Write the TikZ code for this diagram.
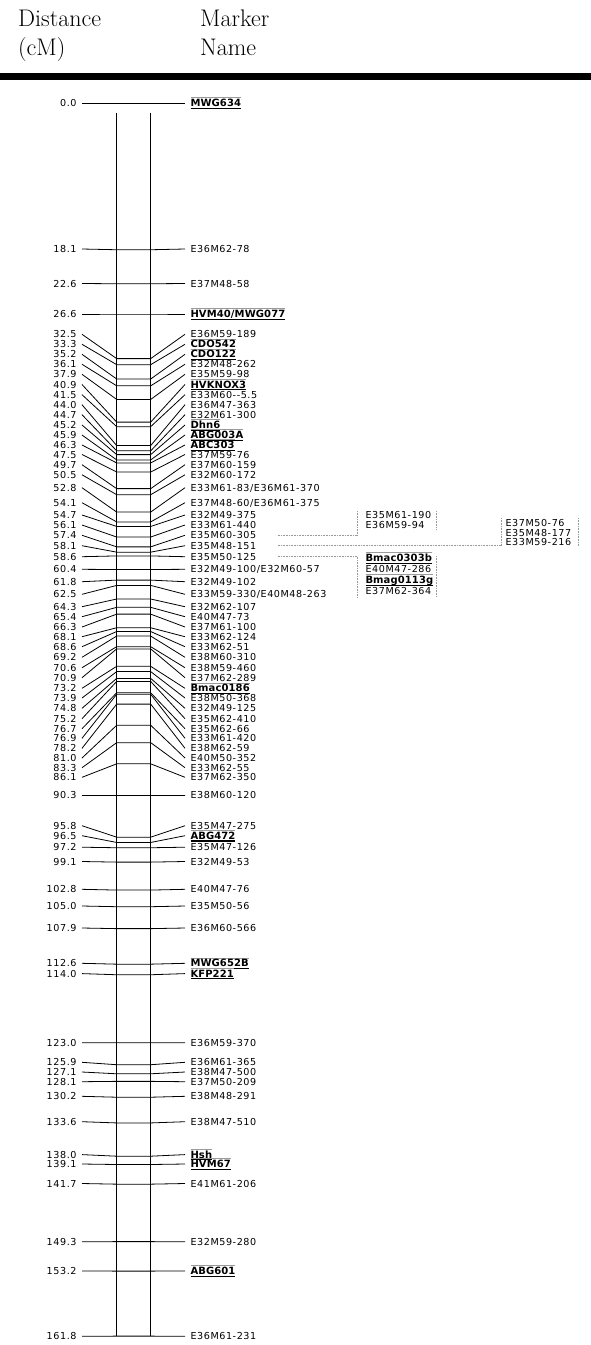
\documentclass[tikz,border=0pt]{standalone}
\usepackage{fontspec}
\usetikzlibrary{calc}
\newfontfamily\mapfont{DejaVu Sans}[LetterSpace=6]
\newfontfamily\mapbold{DejaVu Sans}[LetterSpace=1]
\definecolor{DotGrey}{HTML}{9A9A9A}
\newsavebox\mkbox
\newcommand\mkbold[1]{\sbox\mkbox{\mapbold\bfseries\fontsize{10pt}{11pt}\selectfont #1}%
  \rlap{\textcolor{DotGrey}{\rule[8.8pt]{\wd\mkbox}{0.5pt}}}\rlap{\rule[-2.3pt]{\wd\mkbox}{1.1pt}}\usebox\mkbox}

\begin{document}
\begin{tikzpicture}[x=1pt,y=-1pt,
  hdr/.style={anchor=base west, inner sep=0pt, font=\fontsize{24pt}{29pt}\selectfont},
  cmlab/.style={anchor=east, inner xsep=5.5pt, inner ysep=0pt, outer sep=0pt, text height=7pt, text depth=0pt, font=\mapfont\fontsize{9.6pt}{11pt}\selectfont},
  mklab/.style={cmlab, anchor=west},
  conn/.style={line width=0.8pt},
  bar/.style={line width=1.2pt},
  dotline/.style={DotGrey, densely dotted, line width=0.6pt}]
  \useasboundingbox (0,0) rectangle (591,1345);
  % header
  \node[hdr] (dist) at (18,26) {Distance};
  \node[hdr] (cm) at (18,55) {(cM)};
  \node[hdr] (mark) at (200,26) {Marker};
  \node[hdr] (name) at (200,55) {Name};
  \draw[line width=6.5pt] (0,76.5) -- (591,76.5);
  % chromosome
  \draw[bar] (116.7,112.9) -- (116.7,1336.1) (150.7,112.9) -- (150.7,1336.1);
  \node[cmlab] (d0) at (82,103) {0.0};
  \node[mklab] (m0) at (185,103) {\mkbold{MWG634}};
  \draw[conn] (d0.east) -- (m0.west);
  \foreach \c/\ly/\nm [count=\i] in {18.1/249/E36M62-78, 22.6/283.5/E37M48-58, 26.6/314/\mkbold{HVM40/MWG077},
    32.5/334.3/E36M59-189, 33.3/344.3/\mkbold{CDO542}, 35.2/354.3/\mkbold{CDO122}, 36.1/364.3/E32M48-262,
    37.9/374.3/E35M59-98, 40.9/384.5/\mkbold{HVKNOX3}, 41.5/394.7/E33M60-{}-5.5, 44.0/404.7/E36M47-363,
    44.7/414.7/E32M61-300, 45.2/425/\mkbold{Dhn6}, 45.9/435/\mkbold{ABG003A}, 46.3/445/\mkbold{ABC303},
    47.5/454.5/E37M59-76, 49.7/464.7/E37M60-159, 50.5/474.8/E32M60-172, 52.8/487.7/{E33M61-83/E36M61-370},
    54.1/502.7/{E37M48-60/E36M61-375}, 54.7/515/E32M49-375, 56.1/525/E33M61-440, 57.4/535.3/E35M60-305,
    58.1/545.7/E35M48-151, 58.6/556.7/E35M50-125, 60.4/569.3/{E32M49-100/E32M60-57}, 61.8/581.7/E32M49-102,
    62.5/594.3/{E33M59-330/E40M48-263}, 64.3/606.7/E32M62-107, 65.4/616.7/E40M47-73, 66.3/627/E37M61-100,
    68.1/636.7/E33M62-124, 68.6/646.7/E33M62-51, 69.2/657.3/E38M60-310, 70.6/667.7/E38M59-460,
    70.9/677.7/E37M62-289, 73.2/688.3/\mkbold{Bmac0186}, 73.9/698/E38M50-368, 74.8/708.3/E32M49-125,
    75.2/718.7/E35M62-410, 76.7/728.7/E35M62-66, 76.9/738.3/E33M61-420, 78.2/748.3/E38M62-59,
    81.0/758/E40M50-352, 83.3/767.7/E33M62-55, 86.1/777.3/E37M62-350, 90.3/795.4/E38M60-120,
    95.8/825.7/E35M47-275, 96.5/835.7/\mkbold{ABG472}, 97.2/847.2/E35M47-126, 99.1/861.5/E32M49-53,
    102.8/889.3/E40M47-76, 105.0/906/E35M50-56, 107.9/928/E36M60-566, 112.6/963.3/\mkbold{MWG652B},
    114.0/973.6/\mkbold{KFP221}, 123.0/1042.7/E36M59-370, 125.9/1062.3/E36M61-365, 127.1/1072/E38M47-500,
    128.1/1081.7/E37M50-209, 130.2/1096.3/E38M48-291, 133.6/1121.7/E38M47-510, 138.0/1154.6/\mkbold{Hsh},
    139.1/1164/\mkbold{HVM67}, 141.7/1183.5/E41M61-206, 149.3/1241.8/E32M59-280, 153.2/1271/\mkbold{ABG601},
    161.8/1336.3/E36M61-231}{
    \pgfmathsetmacro\ty{314+7.56*(\c-26.6)}
    \node[cmlab] (d\i) at (82,\ly) {\c};
    \node[mklab] (m\i) at (185,\ly) {\nm};
    \coordinate (l\i) at (116.7,\ty);
    \coordinate (r\i) at (150.7,\ty);
    \draw[conn] (d\i.east) -- (l\i) -- (r\i) -- (m\i.west);
  }
  % markers placed beside the map
  \node[mklab] (c2a) at (360,515) {E35M61-190};
  \node[mklab] (c2b) at (360,524.5) {E36M59-94};
  \node[mklab] (c3a) at (500,523) {E37M50-76};
  \node[mklab] (c3b) at (500,532.7) {E35M48-177};
  \node[mklab] (c3c) at (500,542.3) {E33M59-216};
  \node[mklab] (c2c) at (360,558) {\mkbold{Bmac0303b}};
  \node[mklab] (c2d) at (360,569) {E40M47-286};
  \node[mklab] (c2e) at (360,580) {\mkbold{Bmag0113g}};
  \node[mklab] (c2f) at (360,591) {E37M62-364};
  \coordinate (kA) at (357,0);
  \coordinate (kB) at (436,0);
  \coordinate (kC) at (501,0);
  \coordinate (kD) at (578,0);
  \draw[dotline] (kA |- 0,511) -- (kA |- m23.east);
  \draw[dotline] (kB |- 0,511) -- (kB |- 0,529);
  \draw[dotline] (kC |- 0,518) -- (kC |- m24.east);
  \draw[dotline] (kD |- 0,518) -- (kD |- 0,546);
  \draw[dotline] (kA |- m25.east) -- (kA |- 0,597);
  \draw[dotline] (kB |- 0,556) -- (kB |- 0,597);
  \draw[dotline, shorten <=16pt] (m23.east) -- (kA |- m23.east);
  \draw[dotline, shorten <=16pt] (m24.east) -- (kC |- m24.east);
  \draw[dotline, shorten <=16pt] (m25.east) -- (kA |- m25.east);
\end{tikzpicture}
\end{document}
